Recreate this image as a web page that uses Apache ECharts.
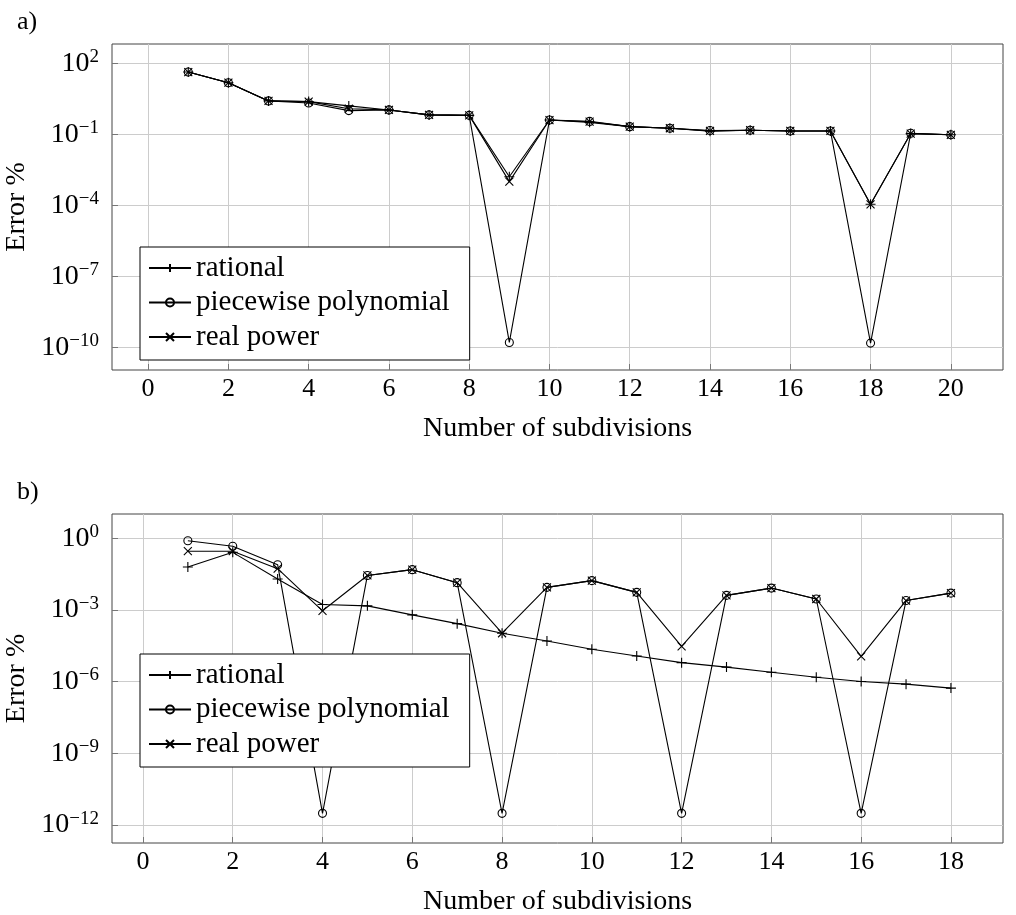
<!DOCTYPE html>
<html>
<head>
<meta charset="utf-8">
<script src="https://cdn.jsdelivr.net/npm/echarts@6/dist/echarts.min.js"></script>
<style>
html,body{margin:0;padding:0;background:#fff;}
#c{width:1016px;height:915px;}
</style>
</head>
<body>
<div id="c"></div>
<script>
// ---- data (a) ----
const xA = [1,2,3,4,5,6,7,8,9,10,11,12,13,14,15,16,17,18,19,20];
const rationalA = [42.7,15.1,2.57,2.4,1.58,1.07,0.66,0.63,1.6e-3,0.40,0.32,0.21,0.18,0.135,0.148,0.138,0.138,1.1e-4,0.107,0.095];
const piecewiseA = [42.7,15.1,2.57,2.1,1.0,1.07,0.66,0.63,1.6e-10,0.40,0.35,0.21,0.18,0.145,0.148,0.138,0.138,1.5e-10,0.11,0.095];
const realA = [42.7,15.1,2.57,2.4,1.2,1.07,0.66,0.63,1.0e-3,0.40,0.34,0.21,0.18,0.14,0.148,0.138,0.138,1.1e-4,0.107,0.095];
// ---- data (b) ----
const xB = [1,2,3,4,5,6,7,8,9,10,11,12,13,14,15,16,17,18];
const rationalB = [6.3e-2,2.6e-1,2.0e-2,1.7e-3,1.5e-3,6.3e-4,2.7e-4,1.07e-4,5.1e-5,2.3e-5,1.2e-5,6.3e-6,4.1e-6,2.5e-6,1.55e-6,1.02e-6,7.9e-7,5.4e-7];
const piecewiseB = [7.9e-1,4.7e-1,7.9e-2,3.1e-12,2.8e-2,4.9e-2,1.4e-2,3.1e-12,8.9e-3,1.7e-2,5.5e-3,3.1e-12,4.1e-3,8.3e-3,2.9e-3,3.1e-12,2.5e-3,5.1e-3];
const realB = [2.9e-1,2.9e-1,5.4e-2,9.3e-4,2.8e-2,4.9e-2,1.4e-2,1.07e-4,8.9e-3,1.7e-2,5.5e-3,3.0e-5,4.1e-3,8.3e-3,2.9e-3,1.15e-5,2.5e-3,5.1e-3];
// ---- ticks ----
const xTicksA = [0,2,4,6,8,10,12,14,16,18,20];
const xTicksB = [0,2,4,6,8,10,12,14,16,18];
const yExpA = [-10,-7,-4,-1,2];
const yExpB = [-12,-9,-6,-3,0];
const names = ['rational','piecewise polynomial','real power'];

const FONT = '"Liberation Serif", "DejaVu Serif", serif';
const symPlus = 'path://M5,0L5,10M0,5L10,5';
const symCross = 'path://M0,0L10,10M0,10L10,0';

function pts(xs, ys){ return xs.map((x,i)=>[x, Math.log10(ys[i])]); }
function expLabel(v){
  const e = Math.round(v);
  const s = e < 0 ? '\u2212' + Math.abs(e) : String(e);
  return '{b|10}{s|' + s + '}';
}

function xAxisDef(gi, ticks, min, max){
  return {
    type:'value', gridIndex:gi, min:min, max:max,
    name:'Number of subdivisions', nameLocation:'middle', nameGap:45,
    nameTextStyle:{fontFamily:FONT, fontSize:28, color:'#000'},
    axisLine:{show:false, onZero:false},
    axisTick:{show:true, inside:true, length:6, customValues:ticks, lineStyle:{color:'#777'}},
    axisLabel:{customValues:ticks, fontFamily:FONT, fontSize:26, color:'#000', margin:6},
    splitLine:{show:true, lineStyle:{color:'#cccccc', width:1}}
  };
}
function yAxisDef(gi, ticks, min, max){
  return {
    type:'value', gridIndex:gi, min:min, max:max,
    name:'Error %', nameLocation:'middle', nameGap:73,
    nameTextStyle:{fontFamily:FONT, fontSize:28, color:'#000'},
    axisLine:{show:false, onZero:false},
    axisTick:{show:true, inside:true, length:6, customValues:ticks, lineStyle:{color:'#777'}},
    axisLabel:{customValues:ticks, margin:13, formatter:expLabel,
      rich:{
        b:{fontFamily:FONT, fontSize:28, color:'#000', lineHeight:32},
        s:{fontFamily:FONT, fontSize:19, color:'#000', verticalAlign:'top', lineHeight:19}
      }},
    splitLine:{show:true, lineStyle:{color:'#cccccc', width:1}}
  };
}
function seriesDefs(gi, xs, r, p, q){
  const base = {type:'line', xAxisIndex:gi, yAxisIndex:gi, showAllSymbol:true,
    lineStyle:{color:'#000', width:1.1}, emphasis:{disabled:true}};
  return [
    Object.assign({}, base, {name:names[0], data:pts(xs,r), symbol:symPlus, symbolSize:10,
      itemStyle:{color:'#000', borderColor:'#000', borderWidth:1.1}}),
    Object.assign({}, base, {name:names[1], data:pts(xs,p), symbol:'circle', symbolSize:8,
      itemStyle:{color:'rgba(255,255,255,0)', borderColor:'#000', borderWidth:1.1}}),
    Object.assign({}, base, {name:names[2], data:pts(xs,q), symbol:symCross, symbolSize:8,
      itemStyle:{color:'#000', borderColor:'#000', borderWidth:1.1}})
  ];
}
function legendDef(top){
  return {
    data:names, orient:'vertical', left:140, top:top,
    itemWidth:42, itemHeight:10, itemGap:4.5,
    padding:[6,20,8,8],
    backgroundColor:'#fff', borderColor:'#000', borderWidth:1, borderRadius:0,
    textStyle:{fontFamily:FONT, fontSize:29, color:'#000', lineHeight:30},
    selectedMode:false
  };
}

const chart = echarts.init(document.getElementById('c'), null, {renderer:'canvas'});
chart.setOption({
  animation:false,
  backgroundColor:'#fff',
  title:[
    {text:'a)', left:12, top:4, textStyle:{fontFamily:FONT, fontSize:26, fontWeight:'normal', color:'#000'}},
    {text:'b)', left:12, top:474, textStyle:{fontFamily:FONT, fontSize:26, fontWeight:'normal', color:'#000'}}
  ],
  grid:[
    {left:112, top:44, right:13, height:326, show:true, borderColor:'#444', borderWidth:1, backgroundColor:'transparent', containLabel:false, outerBoundsMode:'none'},
    {left:112, top:514, right:13, height:329, show:true, borderColor:'#444', borderWidth:1, backgroundColor:'transparent', containLabel:false, outerBoundsMode:'none'}
  ],
  xAxis:[ xAxisDef(0, xTicksA, -0.9, 21.3), xAxisDef(1, xTicksB, -0.69, 19.16) ],
  yAxis:[ yAxisDef(0, yExpA, -10.96, 2.815), yAxisDef(1, yExpB, -12.75, 1.02) ],
  legend:[ legendDef(247), legendDef(654) ],
  series: seriesDefs(0, xA, rationalA, piecewiseA, realA).concat(seriesDefs(1, xB, rationalB, piecewiseB, realB))
});
</script>
</body>
</html>
